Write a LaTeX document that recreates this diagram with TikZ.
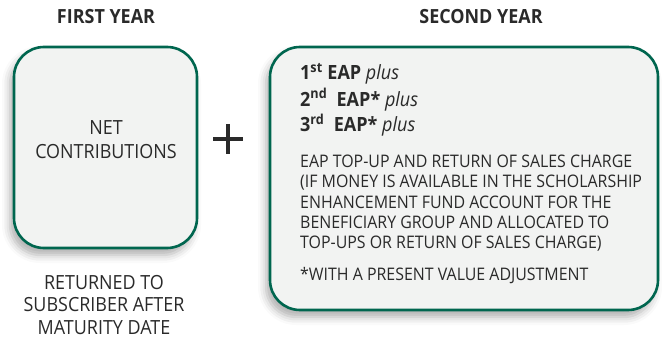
\documentclass[tikz,border=0pt]{standalone}
\usepackage{fontspec}
\setmainfont{Open Sans}[FakeStretch=0.92]
\usetikzlibrary{shadows.blur}
\definecolor{boxgreen}{HTML}{00664F}
\definecolor{boxfill}{HTML}{F2F3F2}
\definecolor{ink}{HTML}{2A2A2A}
\begin{document}
\begin{tikzpicture}[x=1pt,y=-1pt,
  panel/.style={draw=boxgreen, line width=2.6pt, fill=boxfill,
    rounded corners=30pt, inner sep=0pt,
    blur shadow={shadow xshift=-4pt, shadow yshift=-7pt,
      shadow blur radius=8pt, shadow opacity=32}},
  heading/.style={anchor=base, text=ink, inner sep=0pt,
    font=\fontsize{19.5}{22}\selectfont\bfseries},
  bigtext/.style={anchor=base, text=ink, inner sep=0pt,
    font=\fontsize{19.5}{22}\selectfont},
  eapline/.style={anchor=base west, text=ink, inner sep=0pt,
    font=\fontsize{19.6}{22}\selectfont\bfseries},
  smalltext/.style={anchor=base west, text=ink, inner sep=0pt,
    font=\fontsize{17.3}{20}\selectfont},
]
\useasboundingbox (0,0) rectangle (662,339);

% column headings
\node[heading] (h1) at (106,24) {FIRST YEAR};
\node[heading] (h2) at (481,24) {SECOND YEAR};

% first-year panel
\node[panel, minimum width=183pt, minimum height=201pt] (first) at (105.5,147.5) {};
\node[bigtext] (net) at (106,135) {NET};
\node[bigtext] (contrib) at (106,158.3) {CONTRIBUTIONS};

% note below the first panel
\node[bigtext] (ret1) at (104,289.3) {RETURNED TO};
\node[bigtext] (ret2) at (104,311.7) {SUBSCRIBER AFTER};
\node[bigtext] (ret3) at (104,334.3) {MATURITY DATE};

% plus sign between the panels
\draw[ink, line width=3.3pt] (213,139) -- (243,139) (228,124) -- (228,154);

% second-year panel
\node[panel, minimum width=388pt, minimum height=263pt] (second) at (464,178.5) {};
\node[eapline] (e1) at (300,80) {1\textsuperscript{st} EAP \textmd{\textit{plus}}};
\node[eapline] (e2) at (300,106.3) {2\textsuperscript{nd}\ \ EAP* \textmd{\textit{plus}}};
\node[eapline] (e3) at (300,132) {3\textsuperscript{rd}\ \ EAP* \textmd{\textit{plus}}};

\node[smalltext] (p1) at (300,167.5) {EAP TOP-UP AND RETURN OF SALES CHARGE};
\node[smalltext] (p2) at (300,188) {(IF MONEY IS AVAILABLE IN THE SCHOLARSHIP};
\node[smalltext] (p3) at (300,208.3) {ENHANCEMENT FUND ACCOUNT FOR THE};
\node[smalltext] (p4) at (300,228.3) {BENEFICIARY GROUP AND ALLOCATED TO};
\node[smalltext] (p5) at (300,248.3) {TOP-UPS OR RETURN OF SALES CHARGE)};
\node[smalltext] (fn) at (300,281) {*WITH A PRESENT VALUE ADJUSTMENT};
\end{tikzpicture}
\end{document}
